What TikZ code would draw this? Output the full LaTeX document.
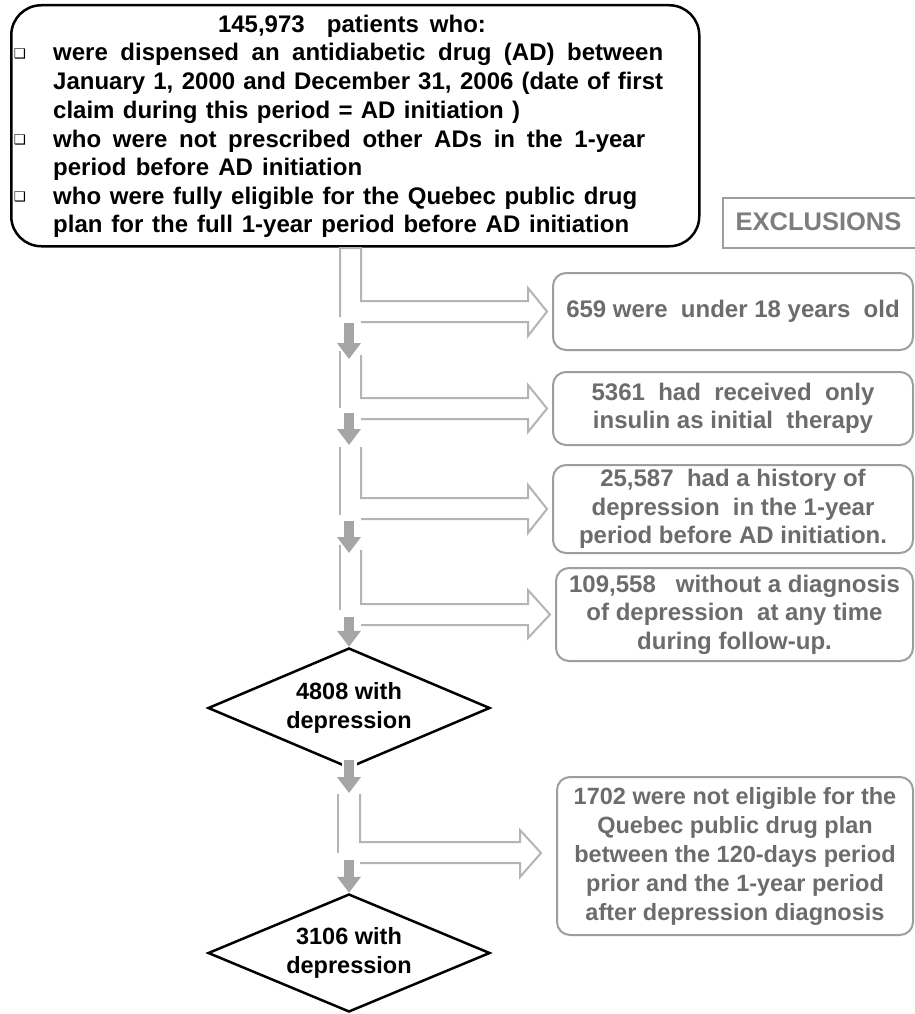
\documentclass[tikz,border=0pt]{standalone}
\usepackage{fontspec}
\setmainfont{Liberation Sans}
\newfontfamily\dejavu{DejaVu Sans}
\usetikzlibrary{shapes.geometric,arrows.meta,calc}
\definecolor{txtgray}{RGB}{108,108,108}
\definecolor{hdrgray}{RGB}{125,125,125}
\definecolor{boxgray}{RGB}{158,158,158}
\definecolor{linegray}{RGB}{180,180,180}
\definecolor{flowgray}{RGB}{165,165,165}
\tikzset{
  mainbox/.style={draw=black, line width=2.5pt, rounded corners=30pt, inner sep=0},
  tline/.style={anchor=base west, inner sep=0},
  bul/.style={inner sep=0, font=\dejavu\fontsize{13.5}{13.5}\selectfont},
  hdrbox/.style={draw=boxgray, line width=2pt, inner sep=0, anchor=north west},
  exbox/.style={draw=boxgray, line width=2pt, rounded corners=13pt, text=txtgray, align=center, inner sep=0,
                font=\bfseries\fontsize{24}{28.5}\selectfont},
  dia/.style={diamond, aspect=2.35, draw=black, line width=2.5pt, minimum width=282pt, minimum height=120pt,
              inner sep=0, align=center, font=\bfseries\fontsize{23.5}{29}\selectfont},
  hollow/.style={draw=linegray, line width=2pt, line join=miter},
  flow/.style={draw=flowgray, line width=10pt, -{Triangle[width=23pt,length=16pt]},
               preaction={draw=white, line width=15pt, -{Triangle[width=30pt,length=19pt]}}}
}
\begin{document}
\begin{tikzpicture}[x=1pt,y=-1pt, font=\bfseries\fontsize{24}{28}\selectfont]
\useasboundingbox (0,0) rectangle (915,1014);
\fill[white] (0,0) rectangle (915,1014);

% ---------- top box ----------
\node[mainbox, minimum width=688pt, minimum height=241pt, anchor=north west] (top) at (10,4) {};
\node[anchor=base, inner sep=0] (t0) at (352,32.5) {\makebox[268pt][s]{145,973\ \ patients who:}};
\node[tline] (t1) at (53,61)    {\makebox[610pt][s]{were dispensed an antidiabetic drug (AD) between}};
\node[tline] (t2) at (53,89.5)  {\makebox[610pt][s]{January 1, 2000 and December 31, 2006 (date of first}};
\node[tline] (t3) at (53,118)   {\makebox[467pt][s]{claim during this period = AD initiation )}};
\node[tline] (t4) at (53,147)   {\makebox[592pt][s]{who were not prescribed other ADs in the 1-year}};
\node[tline] (t5) at (53,175.5) {\makebox[309pt][s]{period before AD initiation}};
\node[tline] (t6) at (53,204)   {\makebox[584pt][s]{who were fully eligible for the Quebec public drug}};
\node[tline] (t7) at (53,232.5) {\makebox[576pt][s]{plan for the full 1-year period before AD initiation}};
\node[bul] (b1) at (20,54) {❑};
\node[bul] (b2) at (20,140) {❑};
\node[bul] (b3) at (20,197) {❑};

% ---------- exclusions header ----------
\node[hdrbox, minimum width=200pt, minimum height=50pt] (hdr) at (722,197) {};
\node[inner sep=0, text=hdrgray, font=\bfseries\fontsize{25.5}{28}\selectfont] (hdrt) at (818.5,222) {EXCLUSIONS};

% ---------- exclusion boxes ----------
\node[exbox, minimum width=360pt, minimum height=77pt] (ex1) at (733,311.5) {659 were\ \ under 18 years\ \ old};
\node[exbox, minimum width=360pt, minimum height=73pt] (ex2) at (733,408.5) {5361\ \ had\ \ received\ \ only\\insulin as initial\ \ therapy};
\node[exbox, minimum width=360pt, minimum height=88pt] (ex3) at (733,509) {25,587\ \ had a history of\\depression\ \ in the 1-year\\period\ before AD initiation.};
\node[exbox, minimum width=357pt, minimum height=93pt] (ex4) at (734.5,614.5) {109,558\ \ \ without a diagnosis\\of depression\ \ at any time\\during follow-up.};
\node[exbox, minimum width=356pt, minimum height=158pt, font=\bfseries\fontsize{23.5}{29}\selectfont] (ex5) at (735,856) {1702 were not eligible for the\\Quebec public drug plan\\between the 120-days period\\prior and the 1-year period\\after depression diagnosis};

% ---------- diamonds ----------
\node[dia] (d1) at (349,708) {4808 with\\depression};
\node[dia, minimum height=118pt] (d2) at (349,953) {3106 with\\depression};

% ---------- hollow bent arrows ----------
\coordinate (h1) at ($(ex1.west)+(-5,0)$);
\coordinate (h2) at ($(ex2.west)+(-5,0)$);
\coordinate (h3) at ($(ex3.west)+(-5,0)$);
\coordinate (h4) at ($(ex4.west)+(-5,0)$);
\coordinate (h5) at ($(ex5.west)+(-15,-3)$);

\draw[hollow] (340,317) -- (340,248) -- (361,248) -- (361,301) -- (528,301) -- (528,288) -- (h1)
              -- (528,336) -- (528,322) -- (361,322);

\draw[hollow] (340,351) -- (340,408);
\draw[hollow] (361,355) -- (361,398) -- (528,398) -- (528,385) -- (h2) -- (528,432) -- (528,419) -- (361,419);

\draw[hollow] (340,447) -- (340,515);
\draw[hollow] (361,447) -- (361,498) -- (528,498) -- (528,485) -- (h3) -- (528,533) -- (528,519) -- (361,519);

\draw[hollow] (340,545) -- (340,610);
\draw[hollow] (361,550) -- (361,604) -- (528,604) -- (528,590) -- (h4) -- (528,638) -- (528,625) -- (361,625);

\draw[hollow] (338,794) -- (338,853);
\draw[hollow] (360,794) -- (360,842) -- (520,842) -- (520,830) -- (h5) -- (520,877) -- (520,863) -- (360,863);

% ---------- solid flow arrows ----------
\coordinate (s1) at (349,323);  \coordinate (e1) at (349,359);
\coordinate (s2) at (349,413);  \coordinate (e2) at (349,445);
\coordinate (s3) at (349,521);  \coordinate (e3) at (349,553);
\coordinate (s4) at (349,617);
\coordinate (s5) at ($(d1.south)+(0,-9)$); \coordinate (e5) at (349,793);
\coordinate (s6) at (349,860);
\draw[flow] (s1) -- (e1);
\draw[flow] (s2) -- (e2);
\draw[flow] (s3) -- (e3);
\draw[flow] (s4) -- (d1.north);
\draw[flow] (s5) -- (e5);
\draw[flow] (s6) -- (d2.north);
\end{tikzpicture}
\end{document}
